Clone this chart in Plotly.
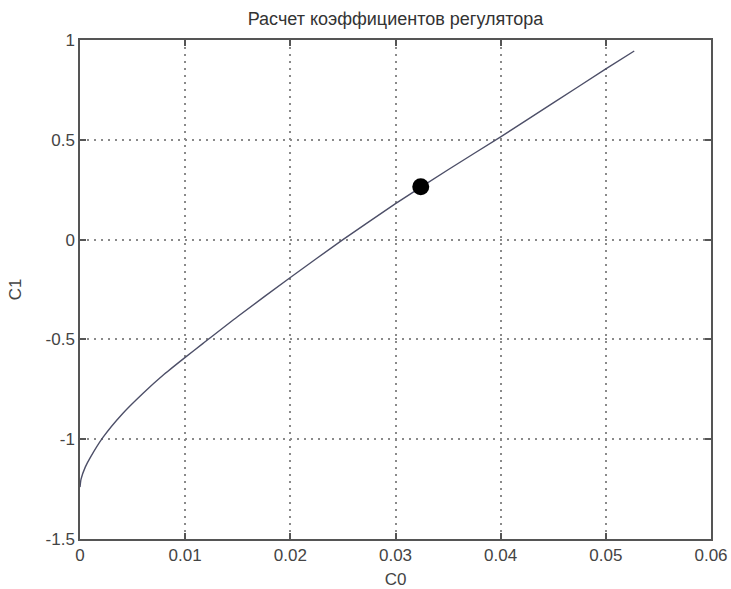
import plotly.graph_objects as go

# Data
c0 = [0.0, 0.0001, 0.0005, 0.001, 0.0022, 0.004, 0.006, 0.008, 0.01, 0.0117, 0.015,
      0.02, 0.025, 0.03, 0.035, 0.04, 0.045, 0.05, 0.0527]
c1 = [-1.24, -1.2, -1.14, -1.09, -0.99, -0.875, -0.77, -0.675, -0.59, -0.52, -0.385,
      -0.19, 0.0, 0.18, 0.35, 0.515, 0.685, 0.855, 0.945]
point_c0 = [0.0324]
point_c1 = [0.265]

x_ticks = [0, 0.01, 0.02, 0.03, 0.04, 0.05, 0.06]
x_tick_labels = ["0", "0.01", "0.02", "0.03", "0.04", "0.05", "0.06"]
y_ticks = [-1.5, -1, -0.5, 0, 0.5, 1]
y_tick_labels = ["-1.5", "-1", "-0.5", "0", "0.5", "1"]

title_text = "Расчет коэффициентов регулятора"
x_title = "C0"
y_title = "C1"

font_family = "Liberation Sans, Arial, sans-serif"

fig = go.Figure()
fig.add_trace(go.Scatter(x=c0, y=c1, mode="lines",
                         line=dict(color="#4d4f68", width=1.4, shape="spline", smoothing=0.6),
                         showlegend=False, hoverinfo="skip"))
fig.add_trace(go.Scatter(x=point_c0, y=point_c1, mode="markers",
                         marker=dict(color="black", size=17, symbol="circle"),
                         showlegend=False))

axis_common = dict(
    showline=True, linecolor="#555555", linewidth=1.5, mirror="ticks",
    ticks="inside", ticklen=6, tickcolor="#555555", tickwidth=1.5,
    showgrid=True, gridcolor="#8a8a8a", griddash="2px,5px", gridwidth=1.5,
    zeroline=False, automargin=False,
    tickfont=dict(family=font_family, size=17, color="#444444"),
)

fig.update_layout(
    width=731, height=589,
    margin=dict(l=80, r=20, t=40, b=50),
    paper_bgcolor="white", plot_bgcolor="white",
    title=dict(text=title_text, xref="paper", x=0.5, xanchor="center",
               y=0.968, yanchor="middle",
               font=dict(family=font_family, size=18, color="#333333")),
    xaxis=dict(range=[0, 0.06], tickvals=x_ticks, ticktext=x_tick_labels,
               title=dict(text=x_title, standoff=9,
                          font=dict(family=font_family, size=17, color="#444444")),
               **axis_common),
    yaxis=dict(range=[-1.5, 1], tickvals=y_ticks, ticktext=y_tick_labels,
               title=dict(text=y_title, standoff=20,
                          font=dict(family=font_family, size=17, color="#444444")),
               **axis_common),
)

# remove the default page margin so the 731x589 figure fills the window exactly
fig.write_html("out.html",
               config={"displayModeBar": False},
               post_script="document.body.style.margin='0';document.body.style.overflow='hidden';")
